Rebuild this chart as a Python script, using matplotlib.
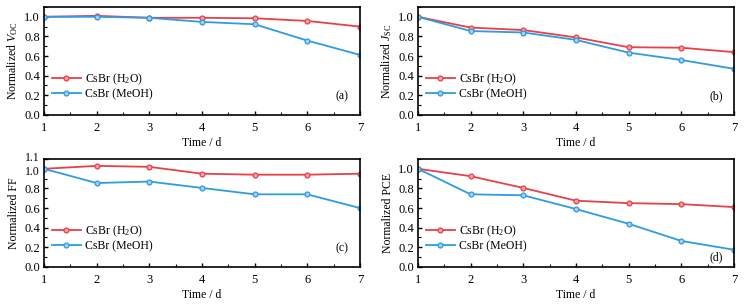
import matplotlib
matplotlib.use('Agg')
from matplotlib import pyplot as plt
from matplotlib.ticker import MultipleLocator, FixedLocator
import matplotlib.transforms as mtransforms

plt.rcParams['font.family'] = ['Liberation Serif', 'DejaVu Serif']
plt.rcParams['mathtext.fontset'] = 'custom'
plt.rcParams['mathtext.rm'] = 'Liberation Serif'
plt.rcParams['mathtext.it'] = 'Liberation Serif:italic'
plt.rcParams['font.size'] = 8

days = [1, 2, 3, 4, 5, 6, 7]

voc_h2o = [1.0, 1.01, 0.99, 0.99, 0.985, 0.958, 0.90]
voc_meoh = [1.0, 1.0, 0.99, 0.948, 0.924, 0.758, 0.612]
jsc_h2o = [1.0, 0.89, 0.865, 0.79, 0.69, 0.685, 0.64]
jsc_meoh = [1.0, 0.855, 0.84, 0.765, 0.635, 0.56, 0.47]
ff_h2o = [1.0, 1.03, 1.02, 0.95, 0.94, 0.94, 0.95]
ff_meoh = [1.0, 0.855, 0.87, 0.805, 0.74, 0.74, 0.60]
pce_h2o = [1.0, 0.925, 0.805, 0.675, 0.65, 0.64, 0.61]
pce_meoh = [1.0, 0.74, 0.73, 0.59, 0.44, 0.265, 0.175]

labels = ['CsBr (H$_2$O)', 'CsBr (MeOH)']
ylabels = [r'Normalized $V_{\rm OC}$', r'Normalized $J_{\rm SC}$',
           'Normalized FF', 'Normalized PCE']
tags = ['(a)', '(b)', '(c)', '(d)']
tag_y = [0.17, 0.17, 0.17, 0.09]
series = [(voc_h2o, voc_meoh), (jsc_h2o, jsc_meoh),
          (ff_h2o, ff_meoh), (pce_h2o, pce_meoh)]

red = '#e8404a'
blue = '#2f9be0'

fig = plt.figure(figsize=(7.45, 3.04), dpi=100)
boxes = [[0.059, 0.622, 0.424, 0.355],
         [0.561, 0.622, 0.424, 0.355],
         [0.059, 0.122, 0.424, 0.355],
         [0.561, 0.122, 0.424, 0.355]]

for i in range(4):
    ax = fig.add_axes(boxes[i])
    h2o, meoh = series[i]
    ax.plot(days, h2o, color=red, lw=1.3, marker='o', ms=3.5,
            mfc='#f5a0a5', mec=red, mew=0.9, label=labels[0])
    ax.plot(days, meoh, color=blue, lw=1.3, marker='o', ms=3.5,
            mfc='#a0d0f5', mec=blue, mew=0.9, label=labels[1])
    ax.set_xlim(1, 7)
    ax.set_ylim(0, 1.1)
    ax.xaxis.set_major_locator(MultipleLocator(1))
    ax.xaxis.set_minor_locator(MultipleLocator(0.5))
    if i == 2:
        ax.yaxis.set_major_locator(FixedLocator([0, 0.2, 0.4, 0.6, 0.8, 1.0, 1.1]))
    else:
        ax.yaxis.set_major_locator(MultipleLocator(0.2))
    ax.yaxis.set_minor_locator(MultipleLocator(0.1))
    ax.yaxis.set_major_formatter(matplotlib.ticker.FormatStrFormatter('%.1f'))
    ax.tick_params(which='both', direction='in', top=False, right=False,
                   labelsize=9)
    ax.tick_params(axis='x', pad=5)
    ax.tick_params(axis='y', pad=3)
    ax.tick_params(which='major', length=3, width=1)
    ax.tick_params(which='minor', length=2, width=0.8)
    for s in ax.spines.values():
        s.set_linewidth(1.2)
    ax.set_xlabel('Time / d', fontsize=8.5, labelpad=2)
    ax.set_ylabel(ylabels[i], fontsize=8.5, labelpad=3)
    ax.legend(loc='lower left', bbox_to_anchor=(0.0, 0.06), frameon=False,
              fontsize=8.5, handlelength=2.4, handletextpad=0.4,
              labelspacing=0.12, borderaxespad=0.3)
    ax.text(0.965, tag_y[i], tags[i], transform=ax.transAxes, ha='right',
            va='center', fontsize=8.5)
    if i == 2:
        # squeeze the close 1.1 / 1.0 labels apart a little
        fig.canvas.draw()
        lbls = ax.get_yticklabels()
        shift_up = mtransforms.ScaledTranslation(0, 2 / 72, fig.dpi_scale_trans)
        shift_dn = mtransforms.ScaledTranslation(0, -1 / 72, fig.dpi_scale_trans)
        lbls[-1].set_transform(lbls[-1].get_transform() + shift_up)
        lbls[-2].set_transform(lbls[-2].get_transform() + shift_dn)
        lbls[-1].set_fontsize(8.5)
        lbls[-2].set_fontsize(8.5)

fig.savefig('out.png', dpi=100)
